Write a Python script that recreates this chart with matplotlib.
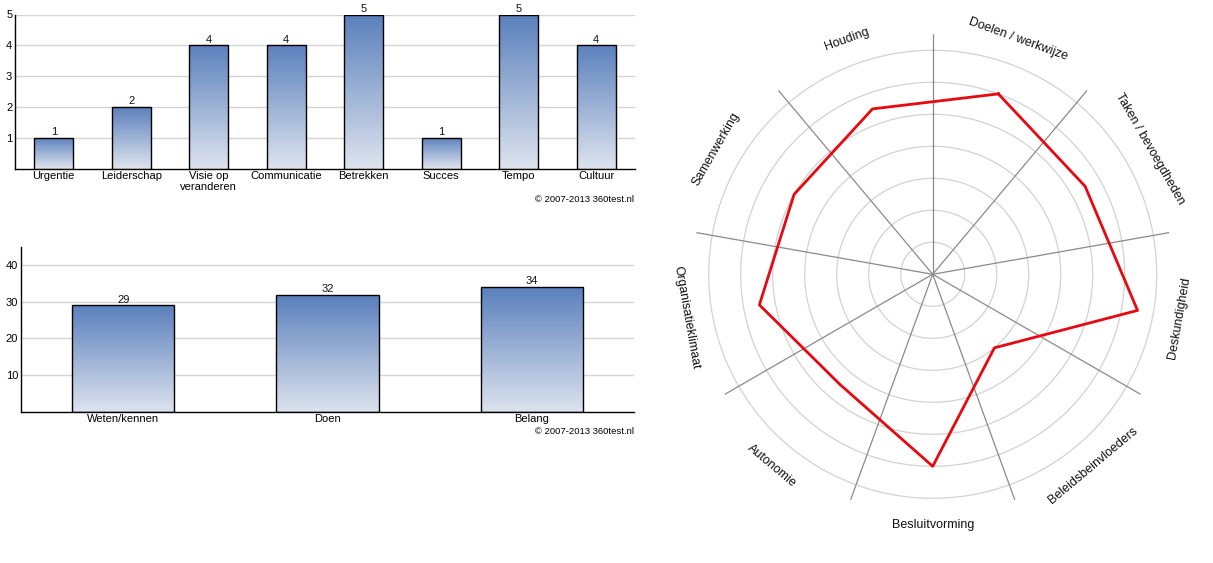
"""Recreate the 360test.nl report figure: two gradient bar charts + radar."""

import numpy as np
import matplotlib
matplotlib.use("Agg")
import matplotlib.pyplot as plt
from matplotlib.colors import LinearSegmentedColormap

plt.rcParams["font.family"] = ["Liberation Sans", "DejaVu Sans"]

# ── data ────────────────────────────────────────────────────────────────────
top_labels = ["Urgentie", "Leiderschap", "Visie op\nveranderen", "Communicatie",
              "Betrekken", "Succes", "Tempo", "Cultuur"]
top_values = [1, 2, 4, 4, 5, 1, 5, 4]
top_ticks = [1, 2, 3, 4, 5]

bottom_labels = ["Weten/kennen", "Doen", "Belang"]
bottom_values = [29, 32, 34]
bottom_ticks = [10, 20, 30, 40]

radar_labels = ["Doelen / werkwijze", "Taken / bevoegdheden", "Deskundigheid",
                "Beleidsbeinvloeders", "Besluitvorming", "Autonomie",
                "Organisatieklimaat", "Samenwerking", "Houding"]
radar_values = [6.0, 5.5, 6.5, 3.0, 6.0, 4.5, 5.5, 5.0, 5.5]
radar_rings = [1, 2, 3, 4, 5, 6, 7]

COPYRIGHT = "\u00a9 2007-2013 360test.nl"
GRAD = LinearSegmentedColormap.from_list("bar", ["#dde3ee", "#5a80bc"])
TICK_FS = 8
GRID_C = "#d4d4d4"


def gradient_bars(ax, labels, values, ymax, ticks, label_pad):
    x = np.arange(len(labels))
    bars = ax.bar(x, values, width=0.5, facecolor="none", edgecolor="black",
                  linewidth=1.0, zorder=3)
    grad = np.linspace(0, 1, 256).reshape(-1, 1)
    for b in bars:
        x0, w, h = b.get_x(), b.get_width(), b.get_height()
        im = ax.imshow(grad, cmap=GRAD, origin="lower", aspect="auto",
                       extent=[x0, x0 + w, 0, h], zorder=2)
        im.set_clip_path(b)
    for xi, v in zip(x, values):
        ax.text(xi, v + label_pad, str(v), ha="center", va="bottom",
                fontsize=TICK_FS, color="#111111")
    ax.set_xlim(-0.5, len(labels) - 0.5)
    ax.set_ylim(0, ymax)
    ax.set_xticks(x)
    ax.set_xticklabels(labels, fontsize=TICK_FS, linespacing=1.1)
    ax.set_yticks(ticks)
    ax.set_yticklabels([str(t) for t in ticks], fontsize=TICK_FS)
    ax.tick_params(length=0, pad=2)
    ax.yaxis.grid(True, color=GRID_C, linewidth=1.0, zorder=0)
    ax.set_axisbelow(True)
    for s in ("top", "right"):
        ax.spines[s].set_visible(False)
    for s in ("left", "bottom"):
        ax.spines[s].set_linewidth(1.0)


def main():
    fig = plt.figure(figsize=(12.13, 5.63), dpi=100)

    # ── top bar chart ───────────────────────────────────────────────────────
    ax1 = fig.add_axes([15 / 1213, 1 - 168.5 / 563, 620 / 1213, 154 / 563])
    gradient_bars(ax1, top_labels, top_values, 5, top_ticks, 0.02)
    fig.text(634 / 1213, 1 - 200 / 563, COPYRIGHT, ha="right", va="center",
             fontsize=6.8)

    # ── bottom bar chart ────────────────────────────────────────────────────
    ax2 = fig.add_axes([21 / 1213, 1 - 411.5 / 563, 613 / 1213, 164.5 / 563])
    gradient_bars(ax2, bottom_labels, bottom_values, 45, bottom_ticks, 0.2)
    fig.text(634 / 1213, 1 - 432 / 563, COPYRIGHT, ha="right", va="center",
             fontsize=6.8)

    # ── radar ───────────────────────────────────────────────────────────────
    cx, cy, rpx = 932.7, 274.3, 240
    ax3 = fig.add_axes([(cx - rpx) / 1213, 1 - (cy + rpx) / 563,
                        2 * rpx / 1213, 2 * rpx / 563], projection="polar")
    ax3.set_theta_zero_location("N")
    ax3.set_theta_direction(-1)
    rmax = 7.5
    ax3.set_ylim(0, rmax)
    ax3.grid(False)
    ax3.spines["polar"].set_visible(False)
    ax3.set_xticks([])
    ax3.set_yticks([])
    ax3.patch.set_alpha(0)

    n = len(radar_labels)
    step = 2 * np.pi / n
    full = np.linspace(0, 2 * np.pi, 361)
    for r in radar_rings:
        ax3.plot(full, np.full_like(full, r), color="#d2d2d2", linewidth=0.9,
                 zorder=1)
    for k in range(n):
        ax3.plot([k * step, k * step], [0, rmax], color="#8a8a8a",
                 linewidth=0.9, zorder=2)

    angles = np.arange(n) * step + step / 2
    ang_c = np.append(angles, angles[0])
    val_c = np.append(radar_values, radar_values[0])
    ax3.plot(ang_c, val_c, color="#e8080f", linewidth=2.0, zorder=3,
             clip_on=False)

    for a, lab in zip(angles, radar_labels):
        deg = np.degrees(a)
        if 90 < deg < 270:
            rot = 180 - deg
        else:
            rot = -deg
            if rot < -90:
                rot += 360
        ax3.text(a, 7.82, lab, rotation=rot, rotation_mode="anchor",
                 ha="center", va="center", fontsize=9, color="#111111")

    fig.savefig("out.png", dpi=100)
    plt.close(fig)


if __name__ == "__main__":
    main()
